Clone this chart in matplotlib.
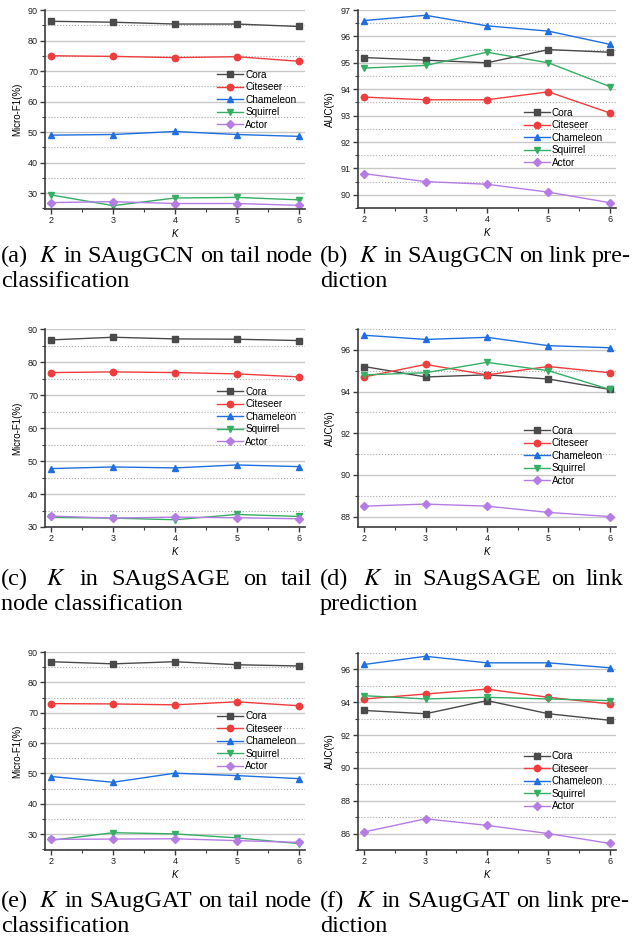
import matplotlib
matplotlib.use("Agg")
import matplotlib.pyplot as plt
from matplotlib.ticker import MultipleLocator

plt.rcParams['font.family'] = ['Liberation Sans', 'DejaVu Sans']
plt.rcParams['mathtext.fontset'] = 'stix'

K = [2, 3, 4, 5, 6]
datasets = ["Cora", "Citeseer", "Chameleon", "Squirrel", "Actor"]

# rows: Cora, Citeseer, Chameleon, Squirrel, Actor
gcn_f1 = [[86.3, 86.0, 85.4, 85.4, 84.6],
          [75.0, 74.8, 74.4, 74.7, 73.2],
          [49.0, 49.2, 50.2, 49.2, 48.6],
          [29.4, 25.9, 28.4, 28.6, 27.8],
          [26.9, 27.2, 26.6, 26.6, 26.0]]
gcn_auc = [[95.2, 95.1, 95.0, 95.5, 95.4],
           [93.7, 93.6, 93.6, 93.9, 93.1],
           [96.6, 96.8, 96.4, 96.2, 95.7],
           [94.8, 94.9, 95.4, 95.0, 94.1],
           [90.8, 90.5, 90.4, 90.1, 89.7]]
sage_f1 = [[86.7, 87.5, 87.0, 86.9, 86.5],
           [76.8, 77.0, 76.8, 76.4, 75.5],
           [47.7, 48.2, 47.9, 48.8, 48.3],
           [32.9, 32.7, 32.2, 33.8, 33.2],
           [33.3, 32.7, 33.0, 32.8, 32.5]]
sage_auc = [[95.2, 94.7, 94.8, 94.6, 94.1],
            [94.7, 95.3, 94.8, 95.2, 94.9],
            [96.7, 96.5, 96.6, 96.2, 96.1],
            [94.8, 94.9, 95.4, 95.0, 94.1],
            [88.5, 88.6, 88.5, 88.2, 88.0]]
gat_f1 = [[86.8, 86.1, 86.8, 85.8, 85.4],
          [73.0, 72.9, 72.6, 73.6, 72.3],
          [49.0, 47.1, 50.1, 49.3, 48.3],
          [28.0, 30.5, 30.1, 28.8, 26.9],
          [28.3, 28.4, 28.5, 27.9, 27.3]]
gat_auc = [[93.5, 93.3, 94.1, 93.3, 92.9],
           [94.2, 94.5, 94.8, 94.3, 93.9],
           [96.3, 96.8, 96.4, 96.4, 96.1],
           [94.4, 94.2, 94.3, 94.2, 94.1],
           [86.1, 86.9, 86.5, 86.0, 85.4]]

colors = ["#4a4a4a", "#f03c3c", "#1f6fe0", "#36ae64", "#b67ce6"]
markers = ["s", "o", "^", "v", "D"]
msizes = [4.2, 4.6, 4.6, 4.6, 3.8]

W, H = 636, 939
fig = plt.figure(figsize=(6.36, 9.39), dpi=100)


def px_axes(l, t, r, b):
    return fig.add_axes([l / W, 1 - b / H, (r - l) / W, (b - t) / H])


panels = [
    (gcn_f1, (45, 10, 305, 209), (24.8, 90), 10, "Micro-F1(%)", (0.662, 0.55)),
    (gcn_auc, (358, 10, 616, 208), (89.5, 97), 1, "AUC(%)", (0.643, 0.354)),
    (sage_f1, (45, 329, 305, 527), (30, 90), 10, "Micro-F1(%)", (0.662, 0.556)),
    (sage_auc, (358, 329, 616, 527), (87.5, 97), 2, "AUC(%)", (0.643, 0.36)),
    (gat_f1, (45, 652, 305, 850), (24.8, 90), 10, "Micro-F1(%)", (0.662, 0.55)),
    (gat_auc, (358, 653, 616, 850), (85, 97), 2, "AUC(%)", (0.643, 0.35)),
]

for vals, box, ylim, major, ylabel, leg_xy in panels:
    ax = px_axes(*box)
    for name, y, c, m, ms in zip(datasets, vals, colors, markers, msizes):
        ax.plot(K, y, color=c, marker=m, ms=ms, lw=1.0, label=name)
    ax.set_xlim(1.9, 6.1)
    ax.set_ylim(*ylim)
    ax.xaxis.set_major_locator(MultipleLocator(1))
    ax.xaxis.set_minor_locator(MultipleLocator(0.5))
    ax.yaxis.set_major_locator(MultipleLocator(major))
    ax.yaxis.set_minor_locator(MultipleLocator(major / 2))
    ax.grid(which='major', axis='y', color='#c8c8c8', lw=1.0)
    ax.grid(which='minor', axis='y', color='#a8a8a8', lw=0.8, ls=':')
    ax.set_axisbelow(True)
    for s in ['top', 'right']:
        ax.spines[s].set_visible(False)
    for s in ['left', 'bottom']:
        ax.spines[s].set_color('#3c3c3c')
        ax.spines[s].set_linewidth(1.2)
    ax.tick_params(which='major', direction='out', length=3.5, width=1,
                   color='#3c3c3c', labelsize=6.5, pad=1.5, labelcolor='#222222')
    ax.tick_params(which='minor', direction='out', length=2, width=0.8,
                   color='#3c3c3c')
    ax.set_xlabel('K', fontstyle='italic', fontsize=7, labelpad=3)
    ax.set_ylabel(ylabel, fontsize=7, labelpad=4)
    ax.legend(loc='center left', bbox_to_anchor=leg_xy, frameon=False,
              fontsize=7.2, handlelength=2.6, handletextpad=0.2,
              labelspacing=0.25, borderpad=0, borderaxespad=0)

captions = [
    (["(a)", "$K$", "in", "SAugGCN", "on", "tail", "node"], "classification", 1, 313, 262),
    (["(b)", "$K$", "in", "SAugGCN", "on", "link", "pre-"], "diction", 320, 631, 262),
    (["(c)", "$K$", "in", "SAugSAGE", "on", "tail"], "node classification", 1, 312, 585),
    (["(d)", "$K$", "in", "SAugSAGE", "on", "link"], "prediction", 320, 623, 585),
    (["(e)", "$K$", "in", "SAugGAT", "on", "tail", "node"], "classification", 1, 312, 907),
    (["(f)", "$K$", "in", "SAugGAT", "on", "link", "pre-"], "diction", 320, 630, 907),
]

cap_font = dict(family='Liberation Serif', fontsize=17.5, va='baseline', ha='left')
renderer = fig.canvas.get_renderer()


def justify(words, x0, x1, y):
    texts = [fig.text(x0 / W, 1 - y / H, w, **cap_font) for w in words]
    widths = [t.get_window_extent(renderer).width for t in texts]
    space = 5.0
    base = [2 * space] + [space] * (len(words) - 2)
    extra = (x1 - x0 - sum(widths) - sum(base)) / (len(words) - 1)
    x = x0
    for t, w, g in zip(texts, widths, base + [0]):
        t.set_x(x / W)
        x += w + g + extra


for words, line2, x0, x1, y in captions:
    justify(words, x0, x1, y)
    fig.text(x0 / W, 1 - (y + 25) / H, line2, **cap_font)

fig.savefig("out.png", dpi=100)
